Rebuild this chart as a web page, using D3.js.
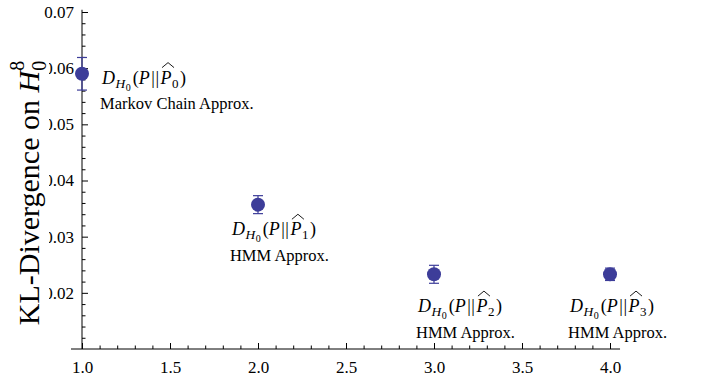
<!DOCTYPE html>
<html>
<head>
<meta charset="utf-8">
<script src="https://cdn.jsdelivr.net/npm/d3@7/dist/d3.min.js"></script>
<style>
  body { margin: 0; background: #fff; }
  svg { display: block; }
  text { font-family: "Liberation Serif", "DejaVu Serif", serif; fill: #000; }
</style>
</head>
<body>
<div id="chart"></div>
<script>
const width = 705,
    height = 380;

// data
const approxOrder = [1, 2, 3, 4];
const divergence = [0.0590, 0.0357, 0.0233, 0.0233];
const errors = [0.0029, 0.0016, 0.0016, 0.0011];
const hatSubscripts = ['0', '1', '2', '3'];
const methodNames = ['Markov Chain Approx.', 'HMM Approx.', 'HMM Approx.', 'HMM Approx.'];
const labelX = [1.114, 1.852, 2.909, 3.773];
const labelY = [0.05725, 0.03025, 0.01657, 0.01657];
const xTicks = [1.0, 1.5, 2.0, 2.5, 3.0, 3.5, 4.0];
const yTicks = [0.02, 0.03, 0.04, 0.05, 0.06, 0.07];

const blue = '#3d3d99';

const x = d3.scaleLinear().domain([1, 4]).range([82, 610]);
const y = d3.scaleLinear().domain([0.01, 0.07]).range([349, 12]);

const svg = d3.select('#chart').append('svg')
    .attr('width', width)
    .attr('height', height);

// minor ticks
const xMinor = d3.range(10, 41).map(d => d / 10).filter(d => xTicks.indexOf(d) < 0);
const yMinor = d3.range(5, 36).map(d => d / 500).filter(d => d > 0.0101 && Math.abs(d * 100 - Math.round(d * 100)) > 1e-6);

svg.append('g')
    .attr('transform', 'translate(0,' + y(0.01) + ')')
    .call(d3.axisBottom(x).tickValues(xMinor).tickSize(-3.5).tickFormat(''))
    .call(g => g.select('.domain').remove());

svg.append('g')
    .attr('transform', 'translate(' + x(1) + ',0)')
    .call(d3.axisLeft(y).tickValues(yMinor).tickSize(-3.5).tickFormat(''))
    .call(g => g.select('.domain').remove());

// major ticks + labels
svg.append('g')
    .attr('transform', 'translate(0,' + y(0.01) + ')')
    .call(d3.axisBottom(x).tickValues(xTicks).tickSize(-6).tickPadding(12).tickFormat(d3.format('.1f')))
    .call(g => g.select('.domain').remove());

svg.append('g')
    .attr('transform', 'translate(' + x(1) + ',0)')
    .call(d3.axisLeft(y).tickValues(yTicks).tickSize(-6).tickPadding(8).tickFormat(d3.format('.2f')))
    .call(g => g.select('.domain').remove());

svg.selectAll('.tick text')
    .style('font-family', '"Liberation Serif", serif')
    .style('font-size', '17px');
svg.selectAll('.tick line').attr('stroke', '#000');

// axis lines
svg.append('line')
    .attr('x1', x(0.9375)).attr('x2', x(4.057))
    .attr('y1', y(0.01)).attr('y2', y(0.01))
    .attr('stroke', '#000');
svg.append('line')
    .attr('x1', x(1)).attr('x2', x(1))
    .attr('y1', y(0.01)).attr('y2', y(0.0704))
    .attr('stroke', '#000');

// y title, with a white box behind it
const title = svg.append('text')
    .attr('transform', 'translate(39,193) rotate(-90)')
    .attr('text-anchor', 'middle')
    .style('font-size', '30px');
title.append('tspan').text('KL-Divergence on ');
title.append('tspan').style('font-style', 'italic').text('H');
title.append('tspan').attr('dy', 7).style('font-size', '20px').text('0');
title.append('tspan').attr('dx', -10).attr('dy', -22).style('font-size', '20px').text('8');

const tb = title.node().getBBox();
svg.insert('rect', () => title.node())
    .attr('x', 0).attr('y', 193 - tb.width / 2 - 6)
    .attr('width', 49).attr('height', tb.width + 12)
    .attr('fill', '#fff');

// error bars
const bars = svg.append('g')
    .selectAll('g')
    .data(divergence)
    .enter().append('g')
    .attr('stroke', blue)
    .attr('stroke-width', 1.2);

bars.append('line')
    .attr('x1', (d, i) => x(approxOrder[i]))
    .attr('x2', (d, i) => x(approxOrder[i]))
    .attr('y1', (d, i) => y(d - errors[i]))
    .attr('y2', (d, i) => y(d + errors[i]));

[-1, 1].forEach(s => {
    bars.append('line')
        .attr('x1', (d, i) => x(approxOrder[i]) - 5)
        .attr('x2', (d, i) => x(approxOrder[i]) + 5)
        .attr('y1', (d, i) => y(d + s * errors[i]))
        .attr('y2', (d, i) => y(d + s * errors[i]));
});

svg.append('g')
    .selectAll('circle')
    .data(divergence)
    .enter().append('circle')
    .attr('cx', (d, i) => x(approxOrder[i]))
    .attr('cy', d => y(d))
    .attr('r', 7)
    .attr('fill', blue);

// labels  D_{H_0}(P||\hat P_k)
function piece(g, cx, txt, size, dy, italic) {
    let t = g.append('text')
        .attr('x', cx)
        .attr('y', dy)
        .style('font-size', size + 'px')
        .style('font-style', italic ? 'italic' : 'normal')
        .text(txt);
    return cx + t.node().getComputedTextLength();
}

divergence.forEach((d, i) => {
    let g = svg.append('g')
        .attr('transform', 'translate(' + x(labelX[i]) + ',' + y(labelY[i]) + ')');
    let cx = 0;
    cx = piece(g, cx, 'D', 18, 0, true) + 0.5;
    cx = piece(g, cx, 'H', 13.5, 4, true) + 0.5;
    cx = piece(g, cx, '0', 10, 7, false) + 2;
    cx = piece(g, cx, '(', 18, 0, false);
    cx = piece(g, cx, 'P', 18, 0, true) + 1.5;
    cx = piece(g, cx, '|', 18, 0, false) + 0.5;
    cx = piece(g, cx, '|', 18, 0, false) + 1.5;
    let p0 = cx;
    cx = piece(g, cx, 'P', 18, 0, true);
    g.append('path')
        .attr('d', 'M' + (p0 + 1.5) + ',-16 L' + ((p0 + cx) / 2 + 2) + ',-21 L' + (cx + 2.5) + ',-16')
        .attr('fill', 'none')
        .attr('stroke', '#000')
        .attr('stroke-width', 0.9);
    cx = piece(g, cx + 0.5, hatSubscripts[i], 13, 4, false) + 1.5;
    piece(g, cx, ')', 18, 0, false);

    g.append('text')
        .attr('x', -2)
        .attr('y', 25.5)
        .style('font-size', '16.5px')
        .text(methodNames[i]);
});
</script>
</body>
</html>
